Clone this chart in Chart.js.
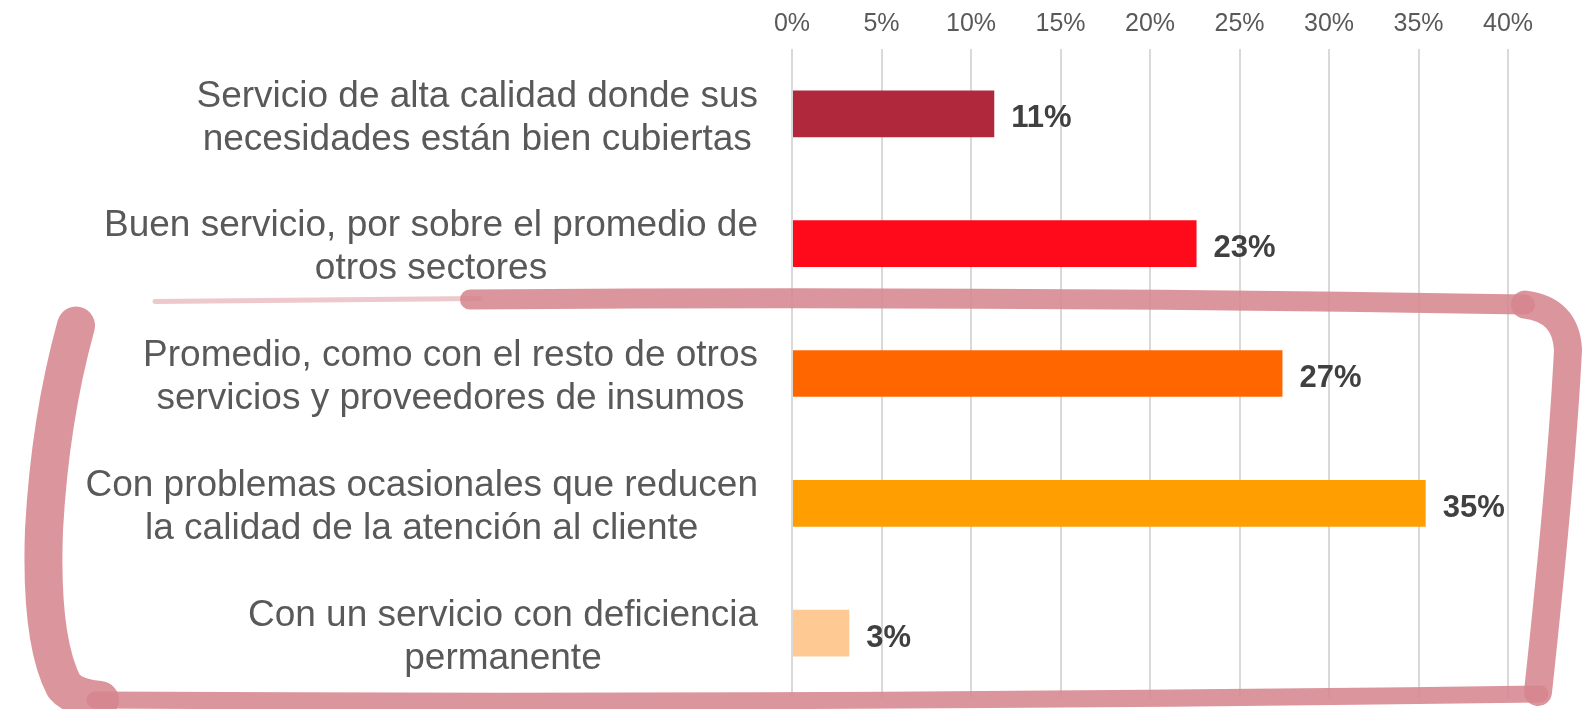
<!DOCTYPE html>
<html>
<head>
<meta charset="utf-8">
<script src="https://cdn.jsdelivr.net/npm/chart.js@4"></script>
<style>
  html, body { margin: 0; padding: 0; background: #fff; }
  #wrap { width: 1588px; height: 709px; }
</style>
</head>
<body>
<div id="wrap"><canvas id="barChart" width="1588" height="709"></canvas></div>
<script>
// category labels (two lines each)
const categories = [
  ['Servicio de alta calidad donde sus', 'necesidades están bien cubiertas'],
  ['Buen servicio, por sobre el promedio de', 'otros sectores'],
  ['Promedio, como con el resto de otros', 'servicios y proveedores de insumos'],
  ['Con problemas ocasionales que reducen', 'la calidad de la atención al cliente'],
  ['Con un servicio con deficiencia', 'permanente']
];
const shares = [11.3, 22.6, 27.4, 35.4, 3.2];
const barColors = ['#b0283c', '#ff0a1a', '#ff6600', '#ff9e00', '#ffc994'];
const tickValues = [0, 5, 10, 15, 20, 25, 30, 35, 40];

const labelFont = '37px "Liberation Sans", Arial, sans-serif';
const valueFont = 'bold 31px "Liberation Sans", Arial, sans-serif';

// draws the category text blocks: right-aligned block, lines centred inside it
const categoryLabels = {
  id: 'categoryLabels',
  afterDraw(chart) {
    const ctx = chart.ctx;
    const y = chart.scales.y;
    const right = chart.chartArea.left - 34;
    ctx.save();
    ctx.font = labelFont;
    ctx.fillStyle = '#595959';
    ctx.textAlign = 'center';
    ctx.textBaseline = 'middle';
    categories.forEach((lines, i) => {
      const w = Math.max(...lines.map(l => ctx.measureText(l).width));
      const cx = right - w / 2;
      const cy = y.getPixelForValue(i) + 4;
      const lh = 43;
      lines.forEach((l, j) => {
        ctx.fillText(l, cx, cy + (j - (lines.length - 1) / 2) * lh);
      });
    });
    ctx.restore();
  }
};

// value labels at the end of each bar
const valueLabels = {
  id: 'valueLabels',
  afterDatasetsDraw(chart) {
    const ctx = chart.ctx;
    const meta = chart.getDatasetMeta(0);
    ctx.save();
    ctx.font = valueFont;
    ctx.fillStyle = '#404040';
    ctx.textAlign = 'left';
    ctx.textBaseline = 'middle';
    meta.data.forEach((bar, i) => {
      ctx.fillText(Math.round(shares[i]) + '%', bar.x + 17, bar.y + 5);
    });
    ctx.restore();
  }
};

// hand-drawn highlight around the last three categories
const highlight = {
  id: 'highlight',
  afterDraw(chart) {
    const ctx = chart.ctx;
    const y = chart.scales.y;
    const top = (y.getPixelForValue(1) + y.getPixelForValue(2)) / 2 - 9;
    const bottom = chart.height - 9;
    const right = chart.width - 18;
    ctx.save();
    ctx.strokeStyle = 'rgba(214, 134, 142, 0.88)';
    ctx.lineCap = 'round';
    ctx.lineJoin = 'round';

    // left side
    ctx.lineWidth = 38;
    ctx.beginPath();
    ctx.moveTo(76, top + 26);
    ctx.quadraticCurveTo(50, top + 120, 44, top + 230);
    ctx.quadraticCurveTo(40, bottom - 60, 64, bottom - 14);
    ctx.quadraticCurveTo(74, bottom - 2, 100, bottom);
    ctx.stroke();

    // bottom
    ctx.lineWidth = 17;
    ctx.beginPath();
    ctx.moveTo(95, bottom);
    ctx.quadraticCurveTo(800, bottom + 4, right - 30, bottom - 6);
    ctx.stroke();

    // right side
    ctx.lineWidth = 28;
    ctx.beginPath();
    ctx.moveTo(right - 32, bottom - 8);
    ctx.quadraticCurveTo(right - 8, top + 170, right - 2, top + 50);
    ctx.quadraticCurveTo(right - 4, top + 10, right - 45, top + 5);
    ctx.stroke();

    // top
    ctx.lineWidth = 20;
    ctx.beginPath();
    ctx.moveTo(right - 45, top + 5);
    ctx.quadraticCurveTo(1000, top - 4, 470, top);
    ctx.stroke();
    ctx.lineWidth = 5;
    ctx.strokeStyle = 'rgba(214, 134, 142, 0.45)';
    ctx.beginPath();
    ctx.moveTo(480, top - 1);
    ctx.lineTo(155, top + 2);
    ctx.stroke();
    ctx.restore();
  }
};

new Chart(document.getElementById('barChart').getContext('2d'), {
  type: 'bar',
  data: {
    labels: categories,
    datasets: [{
      data: shares,
      backgroundColor: barColors,
      borderWidth: 0,
      barPercentage: 0.36,
      categoryPercentage: 1
    }]
  },
  options: {
    indexAxis: 'y',
    responsive: false,
    animation: false,
    layout: { padding: { top: 0, right: 80, bottom: 11, left: 0 } },
    plugins: { legend: { display: false }, tooltip: { enabled: false } },
    scales: {
      x: {
        position: 'top',
        min: 0,
        max: 40,
        afterBuildTicks(axis) { axis.ticks = tickValues.map(v => ({ value: v })); },
        afterFit(axis) { axis.height = 49; },
        grid: { color: '#d9d9d9', lineWidth: 2, drawTicks: false },
        border: { display: false },
        ticks: {
          padding: 10,
          color: '#595959',
          font: { family: '"Liberation Sans", Arial, sans-serif', size: 25 },
          callback: v => v + '%'
        }
      },
      y: {
        afterFit(axis) { axis.width = 792; },
        grid: { display: false },
        border: { display: false },
        ticks: { display: false }
      }
    }
  },
  plugins: [categoryLabels, valueLabels, highlight]
});
</script>
</body>
</html>
